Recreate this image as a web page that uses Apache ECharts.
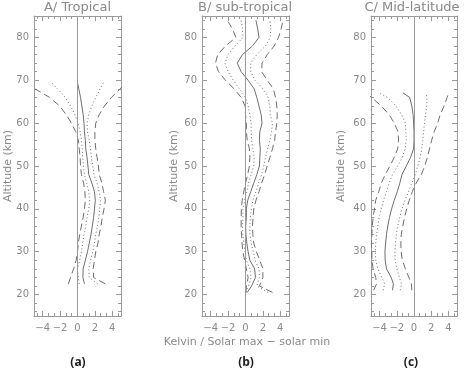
<!DOCTYPE html>
<html><head><meta charset="utf-8">
<script src="https://cdn.jsdelivr.net/npm/echarts@6/dist/echarts.min.js"></script>
<style>html,body{margin:0;padding:0;background:#fff}#c{width:465px;height:369px}</style>
</head><body><div id="c"></div>
<script>
// ---------- data ----------
const altA = [22.5,24,26,28,30,32,34,36,38,40,42,44,46,48,50,52,54,56,58,60,62,64,66,68,69.5];
const solidA = [0.8,0.62,0.65,0.9,1.15,1.35,1.55,1.7,1.85,1.95,2.05,1.95,1.65,1.3,1.2,1.1,0.95,0.9,0.8,0.75,0.65,0.5,0.35,0.15,0.0];
const dotRA  = [2.3,1.35,1.3,1.5,1.75,1.95,2.1,2.3,2.45,2.55,2.65,2.5,2.25,1.9,1.75,1.6,1.5,1.35,1.15,1.1,1.3,1.65,2.1,2.6,3.0];
const dotLA  = [0.2,0.1,0.0,0.25,0.45,0.6,0.75,0.95,1.1,1.3,1.4,1.3,1.05,0.8,0.7,0.6,0.55,0.45,0.3,0.05,-0.3,-0.8,-1.4,-2.3,-3.0];
const dashRA = [3.2,1.85,1.8,1.95,2.1,2.35,2.5,2.7,2.85,3.05,3.2,3.0,2.8,2.5,2.4,2.25,2.1,2.0,2.0,2.1,2.5,3.1,3.9,4.9,5.6];
const dashLA = [-1.05,-0.8,-0.45,-0.15,0.0,0.1,0.25,0.45,0.65,0.8,0.9,0.85,0.7,0.45,0.35,0.3,0.2,0.1,-0.2,-0.7,-1.3,-2.05,-3.2,-4.9,-5.8];

const altB = [20.5,22,24,26,28,30,32,34,36,38,40,42,44,46,48,50,52,54,56,58,60,62,64,66,68,70,72,74,76,78,80,82,84];
const solidB = [0.2,0.7,1.15,1.05,0.5,0.3,0.15,0.05,0.02,0.1,0.1,0.25,0.6,0.95,1.3,1.6,1.65,1.7,1.6,1.65,1.9,1.8,1.55,1.3,1.0,0.3,-0.5,-0.95,-0.35,0.8,1.55,1.4,1.2];
const dotRB  = [2.6,1.3,1.6,1.55,1.1,0.9,0.65,0.5,0.5,0.55,0.68,0.85,1.2,1.5,1.85,2.1,2.3,2.55,2.8,3.0,3.1,2.85,2.8,2.6,2.0,1.1,0.6,0.6,1.3,2.3,2.85,2.9,2.8];
const dotLB  = [0.1,0.35,0.65,0.5,0.1,-0.05,-0.2,-0.3,-0.35,-0.3,-0.3,-0.1,0.15,0.35,0.65,0.95,1.0,0.85,0.7,0.65,0.65,0.5,0.3,0.0,-0.7,-1.4,-2.0,-2.35,-2.0,-1.2,-0.3,-0.35,-0.5];
const dashRB = [3.1,1.6,2.0,2.0,1.65,1.25,0.95,0.85,0.8,0.87,0.95,1.2,1.55,1.85,2.2,2.5,2.8,3.1,3.35,3.45,3.6,3.65,3.6,3.45,3.2,2.5,1.85,1.9,2.5,3.3,3.8,4.1,4.3];
const dashLB = [0.05,0.1,0.3,0.1,-0.1,-0.3,-0.4,-0.45,-0.5,-0.5,-0.48,-0.38,-0.2,0.0,0.25,0.45,0.5,0.45,0.2,0.1,0.1,0.0,-0.05,-0.5,-1.3,-2.3,-3.1,-3.45,-3.2,-2.3,-1.1,-1.5,-2.1];

const altC = [21,22.5,24,26,28,30,32,34,36,38,40,42,44,46,48,50,52,54,56,58,60,62,64,66,67];
const solidC = [-2.5,-2.4,-2.65,-3.2,-3.35,-3.38,-3.3,-3.2,-3.05,-2.85,-2.6,-2.3,-1.95,-1.65,-1.4,-0.9,-0.4,-0.05,0.0,0.0,-0.05,-0.1,-0.25,-0.5,-1.25];
const dotLC  = [-3.6,-3.4,-3.75,-4.2,-4.45,-4.5,-4.45,-4.35,-4.2,-4.05,-3.8,-3.55,-3.2,-2.9,-2.5,-1.9,-1.35,-1.05,-0.9,-0.95,-1.0,-1.45,-2.1,-3.1,-4.0];
const dashLC = [-4.7,-4.35,-4.45,-4.75,-4.9,-4.9,-4.95,-4.9,-4.85,-4.75,-4.6,-4.45,-4.1,-3.8,-3.35,-2.8,-2.3,-1.9,-1.8,-1.85,-2.3,-2.9,-3.8,-4.95,-5.6];
const dotRC  = [-1.6,-1.45,-1.7,-2.0,-2.2,-2.22,-2.15,-2.05,-1.9,-1.65,-1.4,-1.05,-0.65,-0.25,0.15,0.45,0.72,0.9,1.02,1.12,1.22,1.35,1.48,1.5,1.42];
const dashRC = [-0.25,-0.3,-0.6,-1.0,-1.35,-1.5,-1.53,-1.48,-1.3,-1.1,-0.85,-0.55,-0.2,0.25,0.85,1.25,1.55,1.8,2.05,2.35,2.75,3.05,3.5,3.85,4.05];

const xMajor = [-4,-2,0,2,4];
const xMinor = [-4.667,-3.333,-2.667,-1.333,-0.667,0.667,1.333,2.667,3.333,4.667];
const yMajor = [20,30,40,50,60,70,80];
const yMinor = [16,18,22,24,26,28,32,34,36,38,42,44,46,48,52,54,56,58,62,64,66,68,72,74,76,78,82,84];
const panelTitles = ['A/ Tropical','B/ sub-tropical','C/ Mid-latitude'];
const panelTags = ['(a)','(b)','(c)'];
const xTitle = 'Kelvin / Solar max \u2212 solar min';
const yTitle = 'Altitude (km)';

// ---------- layout / style ----------
const grids = [
  {left:34, top:16, width:87, height:300},
  {left:202, top:16, width:87, height:300},
  {left:371, top:16, width:86, height:300}
];
const TXT = '#8a8a8a', AX = '#9a9a9a', LN = '#6e6e6e';
const FONT = 'DejaVu Sans';

const panels = [
  {alt: altA, lines: [solidA, dotLA, dotRA, dashLA, dashRA]},
  {alt: altB, lines: [solidB, dotLB, dotRB, dashLB, dashRB]},
  {alt: altC, lines: [solidC, dotLC, dotRC, dashLC, dashRC]}
];
const styles = [
  {type:'solid', width:1},
  {type:[1,2.5], width:1},
  {type:[1,2.5], width:1},
  {type:[7,4], width:1},
  {type:[7,4], width:1}
];

const xAxes = [], yAxes = [], series = [];
const fmt = v => (v < 0 ? '\u2212' : '') + Math.abs(v);

function axisLine(show) {
  return {show: show, onZero: false, lineStyle: {color: AX, width: 1}};
}

grids.forEach((g, gi) => {
  const base = {gridIndex: gi, type: 'value', splitLine: {show:false}};
  const xb = Object.assign({}, base, {min:-5, max:5});
  const yb = Object.assign({}, base, {min:15, max:85});
  // x axes
  xAxes.push(Object.assign({}, xb, {position:'bottom', axisLine: axisLine(true),
    axisTick:{show:true, inside:true, length:5, customValues:xMajor, lineStyle:{color:AX}},
    axisLabel:{show:true, customValues:xMajor, formatter:fmt, color:TXT, fontSize:10, fontFamily:FONT, margin:7}}));
  xAxes.push(Object.assign({}, xb, {position:'bottom', axisLine: axisLine(false),
    axisTick:{show:true, inside:true, length:3, customValues:xMinor, lineStyle:{color:AX}},
    axisLabel:{show:false}}));
  xAxes.push(Object.assign({}, xb, {position:'top', axisLine: axisLine(true),
    axisTick:{show:true, inside:true, length:5, customValues:xMajor, lineStyle:{color:AX}},
    axisLabel:{show:false}}));
  xAxes.push(Object.assign({}, xb, {position:'top', axisLine: axisLine(false),
    axisTick:{show:true, inside:true, length:3, customValues:xMinor, lineStyle:{color:AX}},
    axisLabel:{show:false}}));
  // y axes
  yAxes.push(Object.assign({}, yb, {position:'left', axisLine: axisLine(true),
    axisTick:{show:true, inside:true, length:5, customValues:yMajor, lineStyle:{color:AX}},
    axisLabel:{show:true, customValues:yMajor, color:TXT, fontSize:10, fontFamily:FONT, margin:5}}));
  yAxes.push(Object.assign({}, yb, {position:'left', axisLine: axisLine(false),
    axisTick:{show:true, inside:true, length:3, customValues:yMinor, lineStyle:{color:AX}},
    axisLabel:{show:false}}));
  yAxes.push(Object.assign({}, yb, {position:'right', axisLine: axisLine(true),
    axisTick:{show:true, inside:true, length:5, customValues:yMajor, lineStyle:{color:AX}},
    axisLabel:{show:false}}));
  yAxes.push(Object.assign({}, yb, {position:'right', axisLine: axisLine(false),
    axisTick:{show:true, inside:true, length:3, customValues:yMinor, lineStyle:{color:AX}},
    axisLabel:{show:false}}));

  const p = panels[gi];
  p.lines.forEach((vals, li) => {
    const s = {
      type:'line', xAxisIndex: gi*4, yAxisIndex: gi*4,
      data: p.alt.map((a, i) => [vals[i], a]),
      showSymbol:false, symbol:'none', smooth:false, clip:true,
      lineStyle: Object.assign({color: LN}, styles[li]),
      silent:true
    };
    if (li === 0) {
      s.markLine = {silent:true, symbol:['none','none'], label:{show:false},
        lineStyle:{color:AX, type:'solid', width:1}, data:[{xAxis:0}]};
    }
    series.push(s);
  });
});

const titleX = [77.5, 245, 412];
const yNameX = [8, 174, 341.5];
const tagX = [78, 246, 411];
const graphic = [];
panelTitles.forEach((t, i) => graphic.push({type:'text', x:titleX[i], y:8,
  style:{text:t, fill:TXT, font:'13px "DejaVu Sans"', textAlign:'center', textVerticalAlign:'middle'}}));
yNameX.forEach(x => graphic.push({type:'text', x:x, y:166, rotation:Math.PI/2,
  style:{text:yTitle, fill:TXT, font:'11px "DejaVu Sans"', textAlign:'center', textVerticalAlign:'middle'}}));
graphic.push({type:'text', x:247, y:342,
  style:{text:xTitle, fill:TXT, font:'11px "DejaVu Sans"', textAlign:'center', textVerticalAlign:'middle'}});
panelTags.forEach((t, i) => graphic.push({type:'text', x:tagX[i], y:363,
  style:{text:t, fill:'#1e1e1e', font:'bold 12px "Open Sans"', textAlign:'center', textVerticalAlign:'middle'}}));

const chart = echarts.init(document.getElementById('c'), null, {renderer:'canvas'});
chart.setOption({
  animation:false,
  backgroundColor:'#ffffff',
  grid: grids,
  xAxis: xAxes,
  yAxis: yAxes,
  series: series,
  graphic: graphic
});
</script></body></html>
